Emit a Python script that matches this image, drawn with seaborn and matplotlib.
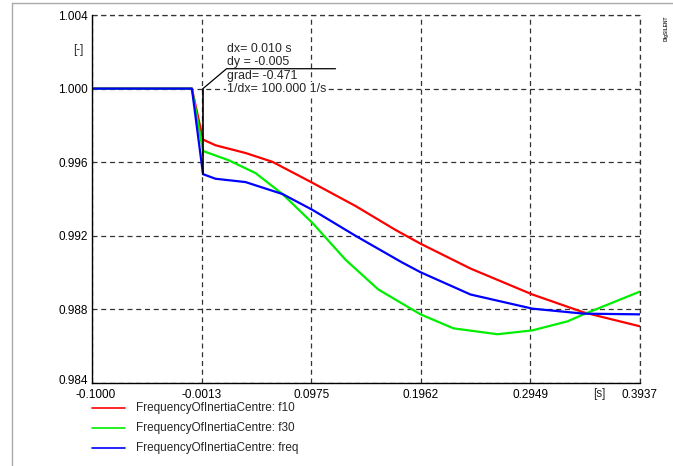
import matplotlib
matplotlib.use("Agg")
import matplotlib.pyplot as plt
import matplotlib.transforms as mtransforms
import seaborn as sns
import pandas as pd
import numpy as np

# ---- data ----
t_red = [-0.1, -0.01, 0.0, 0.0113, 0.0383, 0.0626, 0.0986, 0.1374, 0.1734, 0.196, 0.241, 0.2968, 0.3428, 0.3937]
v_red = [1.0, 1.0, 0.99723, 0.99692, 0.99650, 0.99602, 0.99488, 0.99362, 0.99232, 0.99157, 0.99022, 0.98881, 0.98784, 0.98708]

t_green = [-0.1, -0.01, 0.0, 0.023, 0.0473, 0.0716, 0.0986, 0.1284, 0.158, 0.196, 0.2257, 0.2653, 0.2968, 0.3284, 0.3428, 0.3937]
v_green = [1.0, 1.0, 0.99661, 0.99611, 0.99541, 0.99427, 0.99270, 0.99070, 0.98908, 0.98773, 0.98697, 0.98665, 0.98686, 0.98735, 0.98773, 0.98897]

t_blue = [-0.1, -0.01, 0.0, 0.0113, 0.0383, 0.0716, 0.0986, 0.1374, 0.1797, 0.196, 0.241, 0.2968, 0.3428, 0.3937]
v_blue = [1.0, 1.0, 0.99535, 0.99510, 0.99492, 0.99427, 0.99341, 0.99200, 0.99054, 0.99002, 0.98881, 0.98804, 0.98777, 0.98773]

series_names = ["FrequencyOfInertiaCentre: f10",
                "FrequencyOfInertiaCentre: f30",
                "FrequencyOfInertiaCentre: freq"]
series_colors = ["#ff0000", "#00ee00", "#0000ff"]

x_ticks = [-0.1000, -0.0013, 0.0975, 0.1962, 0.2949, 0.3937]
x_tick_labels = ["-0.1000", "-0.0013", "0.0975", "0.1962", "0.2949", "0.3937"]
y_ticks = [0.984, 0.988, 0.992, 0.996, 1.000, 1.004]
y_tick_labels = ["0.984", "0.988", "0.992", "0.996", "1.000", "1.004"]

cursor_lines = ["dx= 0.010 s", "dy = -0.005", "grad= -0.471", "1/dx= 100.000 1/s"]

df = pd.concat([
    pd.DataFrame({"t": t_red, "v": v_red, "s": series_names[0]}),
    pd.DataFrame({"t": t_green, "v": v_green, "s": series_names[1]}),
    pd.DataFrame({"t": t_blue, "v": v_blue, "s": series_names[2]}),
], ignore_index=True)

sns.set_style("white")
plt.rcParams["font.family"] = ["Liberation Sans", "DejaVu Sans"]

W, H = 673, 466
fig = plt.figure(figsize=(W / 100, H / 100), dpi=100)
ax = fig.add_axes([92 / W, 1 - 383 / H, (640 - 92) / W, (383 - 15) / H])

sns.lineplot(data=df, x="t", y="v", hue="s", palette=series_colors,
             hue_order=series_names, linewidth=1.6, ax=ax, legend=False,
             estimator=None, sort=False)

ax.set_xlim(x_ticks[0], x_ticks[-1])
ax.set_ylim(y_ticks[0], y_ticks[-1])
ax.set_xticks(x_ticks)
ax.set_xticklabels(x_tick_labels)
ax.set_yticks(y_ticks)
ax.set_yticklabels(y_tick_labels)
ax.set_xticks([(a + b) / 2 for a, b in zip(x_ticks[:-1], x_ticks[1:])], minor=True)
ax.set_yticks([(a + b) / 2 for a, b in zip(y_ticks[:-1], y_ticks[1:])], minor=True)
ax.tick_params(axis="both", which="major", direction="in", length=4, width=0.8,
               labelsize=8.5, colors="black")
ax.tick_params(axis="x", which="major", pad=4)
ax.tick_params(axis="y", which="major", pad=3)
ax.tick_params(axis="both", which="minor", direction="in", length=3, width=0.8)
ax.set_xlabel("")
ax.set_ylabel("")

# shift the corner tick labels apart like the reference
xl = ax.get_xticklabels()
xl[0].set_transform(xl[0].get_transform() + mtransforms.ScaledTranslation(4 / 100, 0, fig.dpi_scale_trans))
yl = ax.get_yticklabels()
yl[0].set_transform(yl[0].get_transform() + mtransforms.ScaledTranslation(0, 4 / 100, fig.dpi_scale_trans))

grid_style = dict(color="#333333", linestyle=(0, (4, 3)), linewidth=0.9)
ax.grid(True, which="major", **grid_style)
ax.axhline(y_ticks[-1], clip_on=False, **grid_style)
ax.axvline(x_ticks[-1], clip_on=False, **grid_style)
for side in ["top", "right"]:
    ax.spines[side].set_visible(False)
for side in ["left", "bottom"]:
    ax.spines[side].set_color("black")
    ax.spines[side].set_linewidth(1.0)

# unit labels
ax.text(-0.1 - 0.012, 1.0021, "[-]", ha="center", va="center", fontsize=8.5)
ax.text(0.3566, 0.984 - 0.00026, "[s]", ha="center", va="top", fontsize=8.5)

# cursor annotation
ax.plot([0.0, 0.0], [1.0, 0.99535], color="black", linewidth=1.2, zorder=4)
ax.plot([0.0, 0.0212, 0.1194], [1.0, 1.00108, 1.00108], color="black", linewidth=0.9, zorder=4)
ys = [1.00216, 1.00146, 1.00070, 1.0]
for s, y in zip(cursor_lines, ys):
    ax.text(0.0212, y, s, ha="left", va="center", fontsize=8.9, zorder=5,
            bbox=dict(facecolor="white", edgecolor="none", pad=0.5) if s.startswith("1/dx") else None)

# legend below the axes
leg_y = [408, 428, 448]
for name, col, y in zip(series_names, series_colors, leg_y):
    fig.add_artist(plt.Line2D([92 / W, 125 / W], [1 - y / H, 1 - y / H], color=col, linewidth=1.2))
    fig.text(136 / W, 1 - y / H, name, ha="left", va="center", fontsize=8.5)

# outer frame
fig.add_artist(plt.Line2D([12 / W, 12 / W], [0, 1 - 3 / H], color="#aaaaaa", linewidth=1))
fig.add_artist(plt.Line2D([12 / W, 1], [1 - 3 / H, 1 - 3 / H], color="#aaaaaa", linewidth=1))
fig.text(666 / W, 1 - 28 / H, "DIgSILENT", rotation=90, ha="center", va="center",
         fontsize=3.5, color="#333333", fontweight="bold")

fig.savefig("out.png", dpi=100)
